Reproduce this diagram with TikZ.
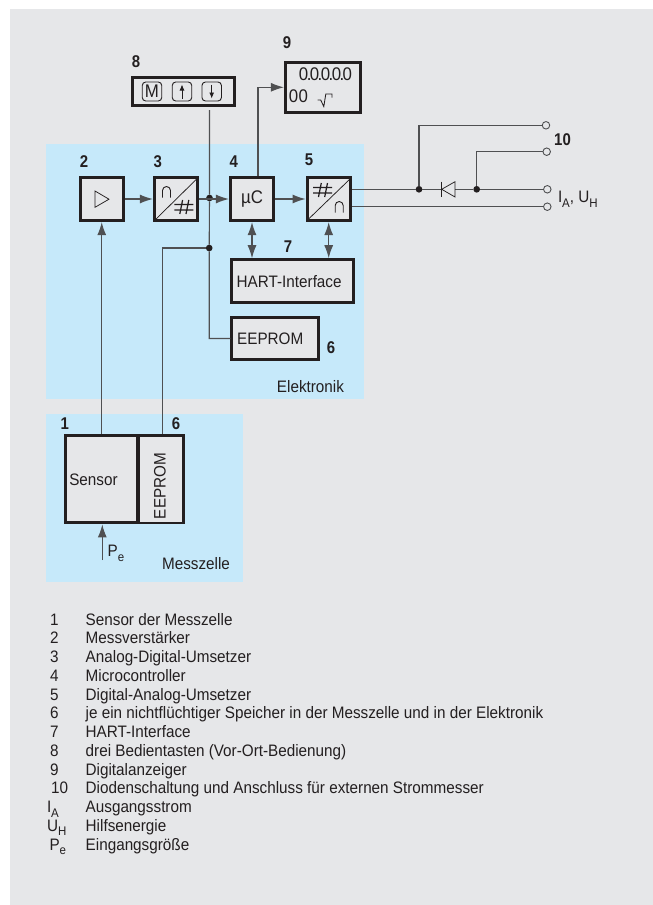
\documentclass[tikz,border=0pt]{standalone}
\usepackage{fontspec}
\usepackage{graphicx}
\usetikzlibrary{arrows.meta}
\setmainfont{Liberation Sans}[FakeStretch=0.92]
\newfontfamily\numfont{Liberation Sans}[FakeStretch=0.88]
\definecolor{bggrey}{HTML}{E6E7E9}
\definecolor{zoneblue}{HTML}{C6E9FA}
\definecolor{ink}{HTML}{231F20}
\definecolor{wirecol}{HTML}{4F5052}
\newcommand{\txtsize}{\fontsize{16.6}{18}\selectfont}
\newcommand{\bigsize}{\fontsize{18.3}{20}\selectfont}
\newcommand{\sbs}[1]{\raisebox{-4.5pt}{\fontsize{12.5}{13}\selectfont #1}}
\tikzset{
  x=1pt,y=-1pt,
  every node/.style={text=ink,font=\txtsize,inner sep=0pt,outer sep=0pt},
  box/.style={draw=ink,fill=bggrey,line width=3pt,rectangle,inner sep=0pt,outer sep=1.5pt},
  boxleft/.style={box,align=left,inner xsep=5.3pt},
  wire/.style={draw=wirecol,line width=1.1pt},
  arr/.style={wire,-{Latex[length=13pt,width=9pt]}},
  darr/.style={wire,{Latex[length=13pt,width=9pt]}-{Latex[length=13pt,width=9pt]}},
  sym/.style={draw=ink,line width=.75pt},
  dot/.style={circle,fill=ink,minimum size=6.7pt},
  term/.style={circle,draw=wirecol,line width=.9pt,minimum size=7.5pt,fill=bggrey},
  num/.style={font=\numfont\bfseries\fontsize{17}{18}\selectfont},
  keycap/.style={draw=ink,fill=bggrey,line width=.9pt,rounded corners=3.5pt,minimum width=19.5pt,minimum height=19pt,font=\bigsize},
  legitem/.style={anchor=base west},
  hashsym/.pic={
    \draw[ink,line width=1.2pt] (-9.5,-2.6) -- (9.5,-2.6) (-9.5,2.9) -- (9.5,2.9)
      (-1.2,-7) -- (-4,7) (5,-7) -- (2.2,7);
  },
  capsym/.pic={
    \draw[ink,line width=.9pt] (-4,5.5) -- (-4,-1.5) arc[start angle=180,end angle=360,radius=4] -- (4,5.5);
  },
}
\begin{document}
\begin{tikzpicture}
\useasboundingbox (0,0) rectangle (653,905);
\fill[bggrey] (10,9) rectangle (653,905);
\fill[zoneblue] (46,144) rectangle (364,399);
\fill[zoneblue] (46,414) rectangle (243,581.7);

% boxes
\node[box,minimum width=102.6pt,minimum height=28.3pt] (keys) at (183.3,91.2) {};
\node[keycap] (keyM) at (152,91.5) {M};
\node[keycap] (keyU) at (182,91.5) {};
\node[keycap] (keyD) at (211.7,91.5) {};
\draw[ink,line width=.9pt,-{Latex[length=6pt,width=5pt]}] (182,98.5) -- (182,84.5);
\draw[ink,line width=.9pt,-{Latex[length=6pt,width=5pt]}] (211.7,84.5) -- (211.7,98.5);

\node[box,minimum width=75.3pt,minimum height=50.6pt] (disp) at (323,87.3) {};
\node[font=\bigsize] (dispA) at (325.5,74) {0\kern-1.5pt.\kern-1.6pt0\kern-1.5pt.\kern-1.6pt0\kern-1.5pt.\kern-1.6pt0\kern-1.5pt.\kern-1.6pt0};
\node[anchor=west,font=\bigsize] (dispB) at (288.8,96) {0\kern.4pt0};
\draw[sym,line width=.85pt] (317.5,100) -- (320.7,100) -- (323.8,106.5) -- (325.8,94) -- (332,94) -- (332,97.5);

\node[box,minimum width=43.3pt,minimum height=43.3pt] (amp) at (102,199) {};
\draw[sym] (95,191) -- (109,199.2) -- (95,207.3) -- cycle;
\node[box,minimum width=43.3pt,minimum height=43.3pt] (adc) at (176,199) {};
\draw[sym] (155,220) -- (196.7,179);
\path (166.5,192) pic {capsym} (183.8,207) pic {hashsym};
\node[box,minimum width=43.3pt,minimum height=43.3pt,font=\bigsize] (uc) at (252,199) {µC};
\node[box,minimum width=43.3pt,minimum height=43.3pt] (dac) at (328.7,199) {};
\draw[sym] (308.3,219.3) -- (350,179);
\path (322.5,190) pic {hashsym} (339.2,207) pic {capsym};

\node[boxleft,text width=111.7pt,minimum height=43pt] (hart) at (292.5,281.2) {HART-Interface};
\node[boxleft,text width=75.7pt,minimum height=42.3pt] (eep) at (275,338.5) {EEPROM};

\node[box,line width=2.2pt,outer sep=1.1pt,minimum width=45pt,minimum height=87.8pt] (eep2) at (161,479.3) {};
\node[rotate=90] (eep2txt) at (160,486) {EEPROM};
\node[boxleft,line width=3.2pt,outer sep=1.6pt,inner xsep=3.6pt,text width=65pt,minimum height=87pt] (sen) at (101.75,479.3) {Sensor};
\coordinate (eep2top) at (162.5,434.3);

% zone and symbol labels
\node[anchor=base east] (elek) at (344,392.5) {Elektronik};
\node[anchor=base east] (mess) at (230,569.5) {Messzelle};
\node[anchor=base west] (pe) at (107.7,556.5) {P\sbs{e}};
\node[anchor=base west] (iau) at (558,202.5) {I\sbs{A}, U\sbs{H}};

% numbers
\node[num] (n8) at (136,62) {8};
\node[num] (n9) at (287,43) {9};
\node[num] (n2) at (84,162) {2};
\node[num] (n3) at (157.7,162) {3};
\node[num] (n4) at (233.7,162) {4};
\node[num] (n5) at (309,160) {5};
\node[num] (n7) at (288,246.7) {7};
\node[num] (n6a) at (331,347.7) {6};
\node[num] (n1) at (64.7,424) {1};
\node[num] (n6b) at (176,424) {6};
\node[num] (n10) at (562.5,140) {10};

% junctions and terminals
\node[dot] (j3) at (209.5,198) {};
\node[dot] (j4) at (209.2,248) {};
\node[dot] (j1) at (419,189.3) {};
\node[dot] (j2) at (476.7,189.3) {};
\node[term] (t1) at (546,125.3) {};
\node[term] (t2) at (546.7,151.7) {};
\node[term] (t3) at (547.3,189.3) {};
\node[term] (t4) at (547.3,206.7) {};
\coordinate (k8end) at (209.5,110);
\coordinate (pestart) at (102.3,560);
\coordinate (dl) at (441.7,189.3);
\coordinate (dr) at (455,189.3);

% connectors
\draw[arr] (amp.east) -- (adc.west);
\draw[arr] (adc.east) -- (uc.west);
\draw[arr] (uc.east) -- (dac.west);
\draw[wire] (k8end) -- (j3) -- (j4) |- (eep.west);
\draw[wire] (j4) -| (eep2top);
\draw[arr] (sen.north) -- (sen.north |- amp.south);
\draw[arr] (pestart) -- (pestart |- sen.south);
\draw[arr] (uc.north) ++(6,0) |- (disp.west);
\draw[darr] (uc.south) -- (uc.south |- hart.north);
\draw[darr] (dac.south) -- (dac.south |- hart.north);
\draw[wire] (dac.east |- t3) -- (j1) -- (dl);
\draw[wire] (dr) -- (j2) -- (t3);
\draw[wire] (dac.east |- t4) -- (t4);
\draw[wire] (j1) |- (t1);
\draw[wire] (j2) |- (t2);
\draw[sym] (dl) ++(0,-7.6) -- ++(0,15.2);
\draw[sym] (dl) -- (455,181.7) -- (455,197) -- cycle;

% legend
\foreach \n/\ytop/\xnum/\num/\lab in {
  a/625/50/1/Sensor der Messzelle,
  b/643.8/50/2/Messverstärker,
  c/662.5/50/3/Analog-Digital-Umsetzer,
  d/681.3/50/4/Microcontroller,
  e/700/50/5/Digital-Analog-Umsetzer,
  f/718.8/50/6/je ein nichtflüchtiger Speicher in der Messzelle und in der Elektronik,
  g/737.5/50/7/HART-Interface,
  h/756.3/50/8/drei Bedientasten (Vor-Ort-Bedienung),
  i/775/50/9/Digitalanzeiger,
  j/793.8/51.2/10/Diodenschaltung und Anschluss für externen Strommesser,
  k/812.5/47/I\sbs{A}/Ausgangsstrom,
  l/831.3/47/U\sbs{H}/Hilfsenergie,
  m/850/49.5/P\sbs{e}/Eingangsgröße}{
  \node[legitem] (ln\n) at (\xnum,\ytop) {\num};
  \node[legitem] (lt\n) at (85.7,\ytop) {\lab};
}
\end{tikzpicture}
\end{document}
